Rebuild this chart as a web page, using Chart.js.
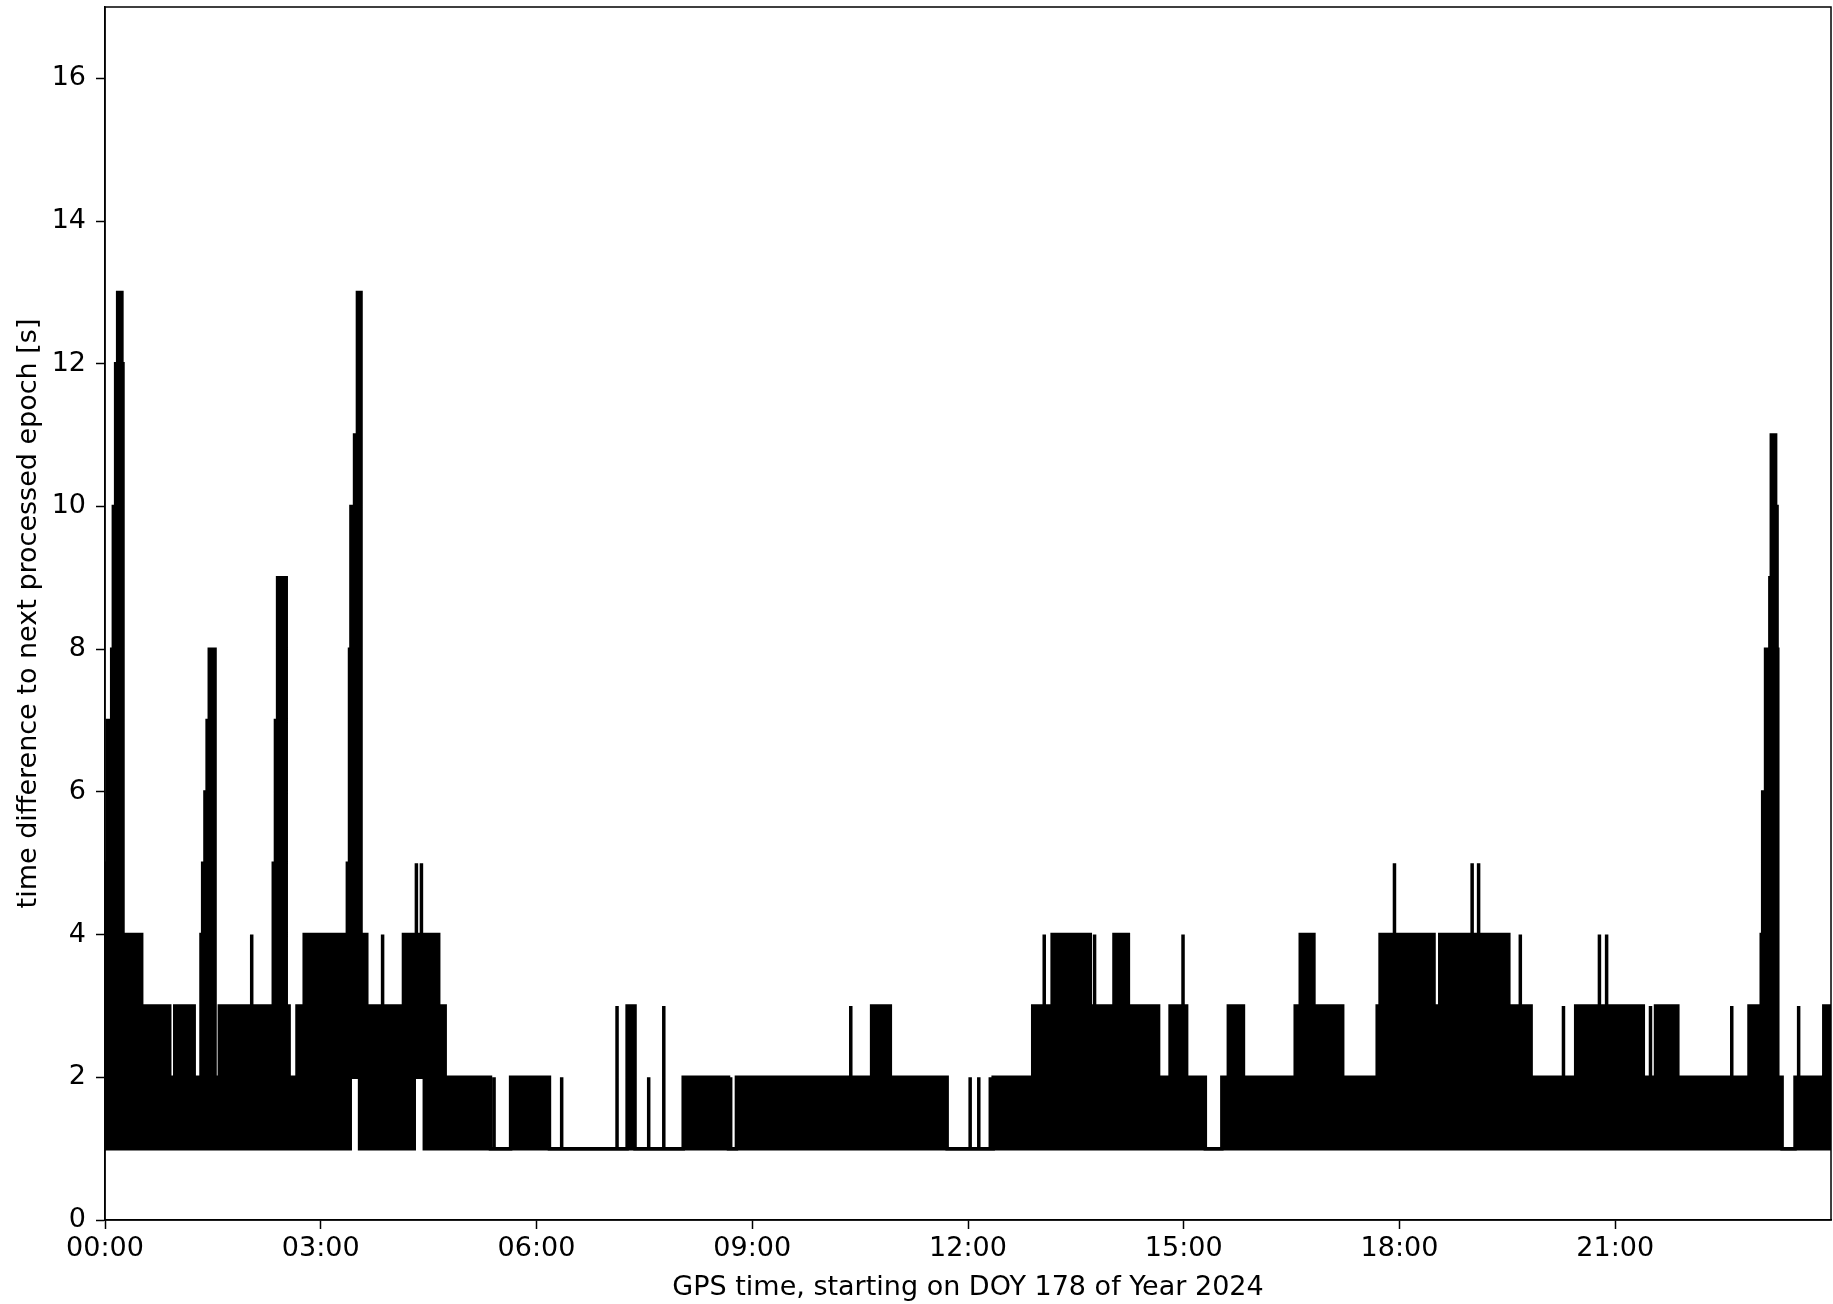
<!DOCTYPE html>
<html>
<head>
<meta charset="utf-8">
<script src="https://cdn.jsdelivr.net/npm/chart.js@4"></script>
<style>
  html, body { margin: 0; padding: 0; background: #fff; }
  #wrap { width: 1833px; height: 1304px; }
</style>
</head>
<body>
<div id="wrap"><canvas id="epochChart"></canvas></div>
<script>
// hours since 00:00 where the upper edge of the dense band changes, and its level (s)
var stepHours = [0.000, 0.020, 0.032, 0.093, 0.116, 0.148, 0.176, 0.235, 0.250, 0.51, 0.90, 0.97, 1.24,
  1.335, 1.358, 1.39, 1.42, 1.45, 1.53, 1.59, 2.34, 2.37, 2.40, 2.52, 2.56, 2.67, 2.77,
  3.37, 3.40, 3.42, 3.47, 3.51, 3.56, 3.64, 4.15, 4.64, 4.73, 5.36, 5.64, 6.18, 7.26, 7.37,
  8.04, 8.67, 8.78, 10.66, 10.92, 11.71, 12.35, 12.90, 13.17, 13.70, 14.03, 14.23, 14.65,
  14.81, 15.04, 15.30, 15.53, 15.62, 15.83, 16.55, 16.62, 16.81, 17.21, 17.69, 17.73,
  18.25, 18.28, 18.34, 18.37, 18.48, 18.56, 19.52, 19.83, 20.45, 21.26, 21.29, 21.39,
  21.56, 21.87, 22.86, 23.03, 23.05, 23.09, 23.15, 23.17, 23.23, 23.25, 23.26, 23.32,
  23.50, 23.90];
var stepTop = [4, 5, 7, 8, 10, 12, 13, 12, 4, 3, 2, 3, 2,
  4, 5, 6, 7, 8, 2, 3, 5, 7, 9, 3, 2, 3, 4,
  5, 8, 10, 11, 13, 4, 3, 4, 3, 2, 1, 2, 1, 3, 1,
  2, 1, 2, 3, 2, 1, 2, 3, 4, 3, 4, 3, 2,
  3, 2, 1, 2, 3, 2, 3, 4, 3, 2, 3, 4,
  3, 4, 3, 4, 3, 4, 3, 2, 3, 2, 3, 2,
  3, 2, 3, 4, 6, 8, 9, 11, 10, 8, 2, 1,
  2, 3];

// single isolated epochs sticking out of the band
var spikeHours = [2.04, 3.86, 4.33, 4.40, 5.41, 6.35, 7.12, 7.56, 7.77, 8.70, 10.37, 12.03, 12.15,
  12.31, 13.06, 13.76, 14.99, 17.93, 19.01, 19.10, 19.68, 20.28, 20.78, 20.88, 21.49, 22.62, 23.55];
var spikeTop = [4, 4, 5, 5, 2, 2, 3, 2, 3, 2, 3, 2, 2,
  2, 4, 4, 4, 5, 5, 5, 4, 3, 4, 4, 3, 3, 3];

// stretches where the lower edge of the band sits at 2 s instead of 1 s
var gapStart = [3.41, 4.30, 17.94, 18.89];
var gapEnd = [3.54, 4.44, 17.98, 18.93];

var xTicks = [0, 3, 6, 9, 12, 15, 18, 21];
var yTicks = [0, 2, 4, 6, 8, 10, 12, 14, 16];
var xMax = 24;

function levelAt(t) {
  var v = stepTop[0];
  for (var i = 0; i < stepHours.length; i++) {
    if (stepHours[i] <= t) v = stepTop[i];
  }
  return v;
}

var upper = [];
for (var i = 0; i < stepHours.length; i++) {
  upper.push({x: stepHours[i], y: stepTop[i]});
}
for (var j = 0; j < spikeHours.length; j++) {
  upper.push({x: spikeHours[j], y: spikeTop[j]});
  upper.push({x: spikeHours[j], y: levelAt(spikeHours[j])});
}
upper.sort(function (a, b) { return a.x - b.x; });
upper.push({x: xMax, y: stepTop[stepTop.length - 1]});

var lower = [{x: 0, y: 1}];
for (var k = 0; k < gapStart.length; k++) {
  lower.push({x: gapStart[k], y: 2});
  lower.push({x: gapEnd[k], y: 1});
}
lower.push({x: xMax, y: 1});

Chart.defaults.font.family = "'DejaVu Sans', sans-serif";
Chart.defaults.font.size = 27;
Chart.defaults.color = '#000';

var frame = {
  id: 'frame',
  afterDatasetsDraw: function (chart) {
    var a = chart.chartArea, c = chart.ctx;
    c.save();
    c.strokeStyle = '#000';
    c.lineWidth = 1.5;
    c.strokeRect(a.left, a.top, a.right - a.left, a.bottom - a.top);
    c.restore();
  }
};

var cth = document.getElementById('epochChart');
var epochChart = new Chart(cth, {
  type: 'line',
  data: {
    datasets: [
      {
        label: 'upper',
        data: upper,
        stepped: true,
        borderColor: '#000',
        backgroundColor: '#000',
        borderWidth: 3.5,
        pointRadius: 0,
        fill: '+1'
      },
      {
        label: 'lower',
        data: lower,
        stepped: true,
        borderColor: '#000',
        borderWidth: 3.5,
        pointRadius: 0,
        fill: false
      }
    ]
  },
  options: {
    responsive: true,
    maintainAspectRatio: false,
    animation: false,
    devicePixelRatio: 1,
    layout: { padding: { top: 7, right: 2, left: 0, bottom: 0 } },
    plugins: { legend: { display: false }, tooltip: { enabled: false } },
    scales: {
      x: {
        type: 'linear',
        min: 0,
        max: xMax,
        afterBuildTicks: function (s) { s.ticks = xTicks.map(function (v) { return {value: v}; }); },
        afterFit: function (s) { s.height = 84; s.paddingLeft = 0; s.paddingRight = 0; },
        ticks: {
          padding: 4,
          maxRotation: 0,
          autoSkip: false,
          callback: function (v) { return (v < 10 ? '0' : '') + v + ':00'; }
        },
        grid: { drawOnChartArea: false, drawTicks: true, tickLength: 9, tickColor: '#000', tickWidth: 1.5 },
        border: { display: true, color: '#000', width: 1.5 },
        title: { display: true, text: 'GPS time, starting on DOY 178 of Year 2024', padding: { top: 0, bottom: 0 } }
      },
      y: {
        min: 0,
        max: 17,
        afterBuildTicks: function (s) { s.ticks = yTicks.map(function (v) { return {value: v}; }); },
        afterFit: function (s) { s.width = 105; s.paddingTop = 0; s.paddingBottom = 0; },
        ticks: { padding: 10 },
        grid: { drawOnChartArea: false, drawTicks: true, tickLength: 9, tickColor: '#000', tickWidth: 1.5 },
        border: { display: true, color: '#000', width: 1.5 },
        title: { display: true, text: 'time difference to next processed epoch [s]', padding: { top: 13, bottom: 0 } }
      }
    }
  },
  plugins: [frame]
});
</script>
</body>
</html>
